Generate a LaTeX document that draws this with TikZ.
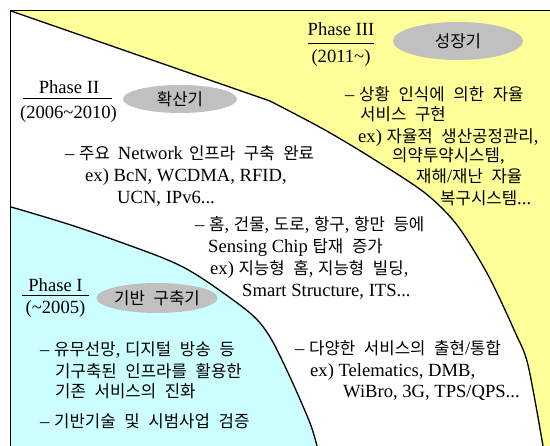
\documentclass[tikz,border=0pt]{standalone}
\usepackage{fontspec}
\setmainfont{Liberation Serif}
\newfontfamily\krfont{Noto Sans CJK KR}[Scale=0.9,WordSpace=2.3]
\newXeTeXintercharclass\hanclass
\newcount\hcnt
\hcnt="AC00
\loop
  \XeTeXcharclass\hcnt=\hanclass
  \ifnum\hcnt<"D7A3 \advance\hcnt by 1
\repeat
\XeTeXinterchartoks 0 \hanclass={\krfont}
\XeTeXinterchartoks 4095 \hanclass={\krfont}
\XeTeXinterchartoks \hanclass 0={\rmfamily}
\XeTeXinterchartoks 4095 0={\rmfamily}
\usetikzlibrary{shapes.geometric}
\definecolor{yel}{HTML}{FFFF99}
\definecolor{cya}{HTML}{CCFFFF}
\definecolor{ell}{HTML}{C0C0C0}
\tikzset{
  txt/.style={anchor=base west, inner sep=0pt, font=\fontsize{18.6}{20}\selectfont},
  ctxt/.style={anchor=base, inner sep=0pt, font=\fontsize{18.6}{20}\selectfont},
  phaseell/.style={ellipse, fill=ell, inner sep=0pt, font=\fontsize{18.6}{20}\selectfont},
  edgeline/.style={line width=1.3pt},
  frameline/.style={line width=1.5pt},
  ruleline/.style={line width=1pt},
}
\begin{document}
\XeTeXinterchartokenstate=1
\begin{tikzpicture}[x=1pt,y=-1pt]
\useasboundingbox (0,0) rectangle (550,446);
\fill[white] (0,0) rectangle (550,446);
% yellow region
\fill[yel] (11,11) -- plot[smooth] coordinates {(270,101) (325,130) (375,160) (425,193) (457,225) (488,275) (515,332) (528,365) (543,446)} -- (550,446) -- (550,11) -- cycle;
\draw[edgeline] (11,11) -- plot[smooth] coordinates {(270,101) (325,130) (375,160) (425,193) (457,225) (488,275) (515,332) (528,365) (543,446)};
% cyan region
\fill[cya] plot[smooth] coordinates {(11,207) (77,227) (163,258) (200,277) (250,313) (270,337) (290,377) (310,423) (317,446)} -- (11,446) -- cycle;
\draw[edgeline] plot[smooth] coordinates {(11,207) (77,227) (163,258) (200,277) (250,313) (270,337) (290,377) (310,423) (317,446)};
% frame
\draw[frameline] (550,10.5) -- (10.5,10.5) -- (10.5,446);

% Phase III
\node[ctxt] (p3) at (341,36) {Phase III};
\draw[ruleline] (308,44) -- (374,44);
\node[ctxt] (y3) at (341,63) {(2011\textasciitilde)};
\node[phaseell, minimum width=130pt, minimum height=38pt] (e3) at (458,41) {성장기};
\node[txt] (t3a) at (345,101) {– 상황 인식에 의한 자율};
\node[txt] (t3b) at (360,121) {서비스 구현};
\node[txt] (t3c) at (358,143) {ex) 자율적 생산공정관리,};
\node[txt] (t3d) at (392,162) {의약투약시스템,};
\node[txt] (t3e) at (416,183) {재해/재난 자율};
\node[txt] (t3f) at (440,205) {복구시스템...};

% Phase II
\node[ctxt] (p2) at (69,94) {Phase II};
\draw[ruleline] (23,99) -- (112,99);
\node[ctxt] (y2) at (68.5,119) {(2006\textasciitilde 2010)};
\node[phaseell, minimum width=114pt, minimum height=28pt] (e2) at (180,99) {확산기};
\node[txt] (t2a) at (65,160) {– 주요\hspace{8pt}Network\hspace{6pt}인프라 구축 완료};
\node[txt] (t2b) at (85,182) {ex) BcN, WCDMA, RFID,};
\node[txt] (t2c) at (117,204) {UCN, IPv6...};

% middle
\node[txt] (tma) at (195,231) {– 홈, 건물, 도로, 항구, 항만 등에};
\node[txt] (tmb) at (208,253) {Sensing Chip 탑재 증가};
\node[txt] (tmc) at (210,275) {ex) 지능형 홈, 지능형 빌딩,};
\node[txt] (tmd) at (242,297) {Smart Structure, ITS...};

% bottom right
\node[txt] (tra) at (295,355) {– 다양한 서비스의 출현/통합};
\node[txt] (trb) at (310,377) {ex) Telematics, DMB,};
\node[txt] (trc) at (343,398) {WiBro, 3G, TPS/QPS...};

% Phase I
\node[ctxt] (p1) at (55.5,292) {Phase I};
\draw[ruleline] (22,296) -- (89,296);
\node[ctxt] (y1) at (55.5,314) {(\textasciitilde 2005)};
\node[phaseell, minimum width=113pt, minimum height=30pt] (e1) at (157,298) {기반 구축기};
\node[txt] (t1a) at (40,356) {– 유무선망, 디지털 방송 등};
\node[txt] (t1b) at (55,378) {기구축된 인프라를 활용한};
\node[txt] (t1c) at (55,398) {기존 서비스의 진화};
\node[txt] (t1d) at (40,428) {– 기반기술 및 시범사업 검증};
\end{tikzpicture}
\end{document}
